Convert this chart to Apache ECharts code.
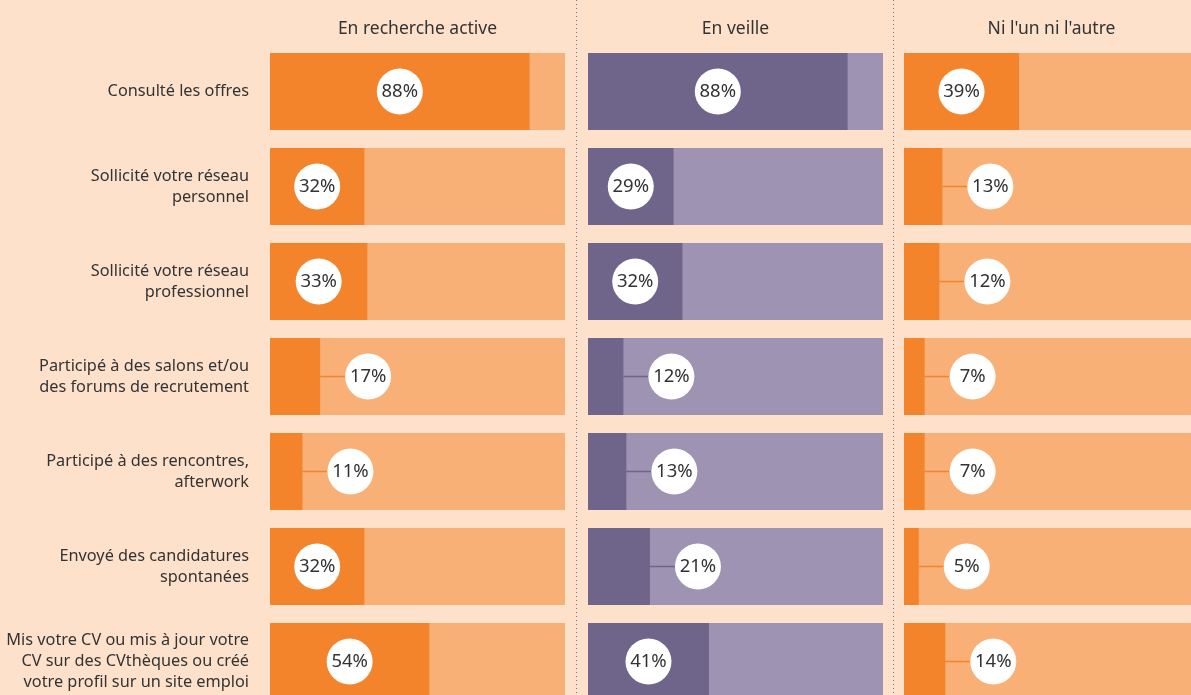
<!DOCTYPE html>
<html>
<head>
<meta charset="utf-8">
<script src="https://cdn.jsdelivr.net/npm/echarts@6/dist/echarts.min.js"></script>
<style>
  html, body { margin: 0; padding: 0; background: #fde1cb; }
  #chart { width: 1191px; height: 695px; }
</style>
</head>
<body>
<div id="chart"></div>
<script>
const categories = [
  'Consulté les offres',
  'Sollicité votre réseau\npersonnel',
  'Sollicité votre réseau\nprofessionnel',
  'Participé à des salons et/ou\ndes forums de recrutement',
  'Participé à des rencontres,\nafterwork',
  'Envoyé des candidatures\nspontanées',
  'Mis votre CV ou mis à jour votre\nCV sur des CVthèques ou créé\nvotre profil sur un site emploi'
]
const panelTitles = ['En recherche active', 'En veille', "Ni l'un ni l'autre"]
const activeValues = [88, 32, 33, 17, 11, 32, 54]
const veilleValues = [88, 29, 32, 12, 13, 21, 41]
const autreValues = [39, 13, 12, 7, 7, 5, 14]

const panels = [
  { data: activeValues, left: 270, dark: '#f3842c', light: '#f9b077' },
  { data: veilleValues, left: 588, dark: '#6f6489', light: '#9e93b2' },
  { data: autreValues, left: 904, dark: '#f3842c', light: '#f9b077' }
]
const panelWidth = 295
const font = "'Noto Sans', sans-serif"

const chart = echarts.init(document.getElementById('chart'))

const grids = []
const xAxes = []
const yAxes = []
const series = []
const titles = []

panels.forEach((p, i) => {
  grids.push({ left: p.left, width: panelWidth, top: 44, height: 665, outerBoundsMode: 'none' })
  xAxes.push({
    gridIndex: i, type: 'value', min: 0, max: 100, show: false
  })
  yAxes.push({
    gridIndex: i,
    type: 'category',
    inverse: true,
    data: categories,
    axisLine: { show: false },
    axisTick: { show: false },
    axisLabel: {
      show: i === 0,
      margin: 21,
      color: '#333',
      fontFamily: font,
      fontSize: 16.3,
      lineHeight: 21,
      align: 'right'
    }
  })
  // full width background bar
  series.push({
    type: 'bar',
    xAxisIndex: i,
    yAxisIndex: i,
    data: categories.map(() => 100),
    barWidth: 77,
    barGap: '-100%',
    itemStyle: { color: p.light },
    silent: true
  })
  series.push({
    type: 'bar',
    xAxisIndex: i,
    yAxisIndex: i,
    data: p.data,
    barWidth: 77,
    barGap: '-100%',
    itemStyle: { color: p.dark },
    silent: true
  })
  // round white value labels
  series.push({
    type: 'custom',
    xAxisIndex: i,
    yAxisIndex: i,
    data: p.data.map((v, k) => [v, k]),
    z: 10,
    renderItem(params, api) {
      const start = api.coord([0, api.value(1)])
      const end = api.coord([api.value(0), api.value(1)])
      const w = end[0] - start[0]
      const r = 23
      const children = []
      let cx
      if (w > 75) {
        cx = (start[0] + end[0]) / 2
      } else {
        cx = end[0] + 48
        children.push({
          type: 'line',
          shape: { x1: end[0], y1: end[1], x2: cx - r, y2: end[1] },
          style: { stroke: p.dark, lineWidth: 1.5 }
        })
      }
      children.push({
        type: 'circle',
        shape: { cx: cx, cy: end[1], r: r },
        style: { fill: '#fff' }
      })
      children.push({
        type: 'text',
        x: cx,
        y: end[1],
        style: {
          text: api.value(0) + '%',
          fill: '#333',
          font: '18.5px ' + font,
          align: 'center',
          verticalAlign: 'middle'
        }
      })
      return { type: 'group', children: children }
    }
  })
  titles.push({
    text: panelTitles[i],
    left: p.left + panelWidth / 2,
    top: 20,
    padding: 0,
    textAlign: 'center',
    textStyle: { color: '#333', fontFamily: font, fontSize: 17.5, fontWeight: 'normal' }
  })
})

chart.setOption({
  backgroundColor: '#fde1cb',
  animation: false,
  title: titles,
  grid: grids,
  xAxis: xAxes,
  yAxis: yAxes,
  series: series,
  graphic: [576.5, 893.5].map(x => ({
    type: 'line',
    shape: { x1: x, y1: 0, x2: x, y2: 695 },
    style: { stroke: '#7d6e96', lineWidth: 1, lineDash: [1, 3] },
    silent: true
  }))
})
</script>
</body>
</html>
